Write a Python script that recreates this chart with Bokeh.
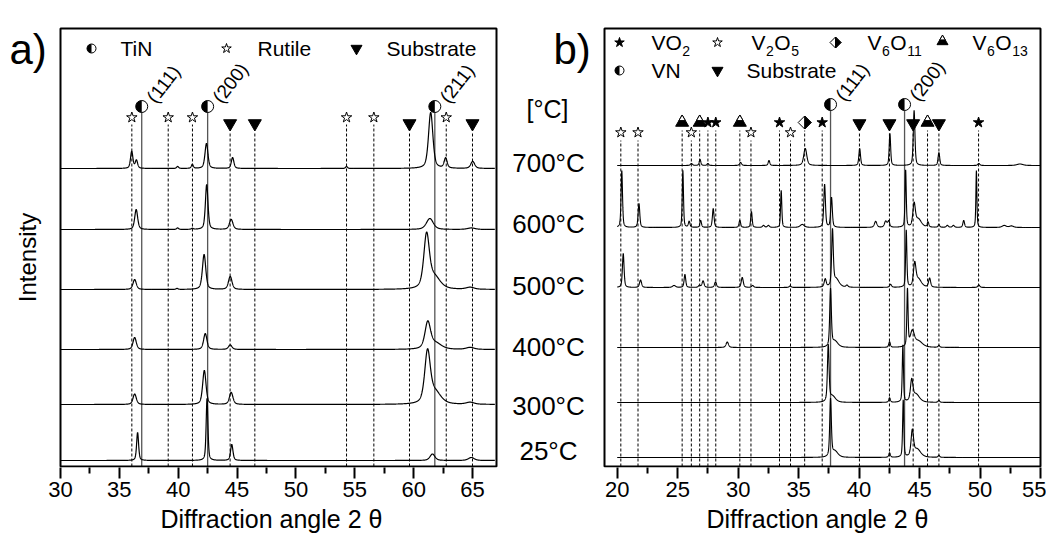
import numpy as np
from bokeh.plotting import figure
from bokeh.layouts import row
from bokeh.models import Label, FixedTicker, Range1d, Title
from bokeh.embed import file_html
from bokeh.resources import INLINE

FONT = "Liberation Sans"

# ---------------- data: panel a (TiN coating) ----------------
temps = ["700°C", "600°C", "500°C", "400°C", "300°C", "25°C"]
a_offsets = [298, 237, 177, 117, 62, 6]
# peaks: (2theta, height, half width)
a_700 = [(36.05, 17, 0.12), (36.45, 8, 0.12), (39.95, 2, 0.1), (41.2, 4, 0.1), (42.4, 25, 0.15),
         (44.62, 11, 0.13), (54.3, 2, 0.1), (61.45, 56, 0.22), (62.72, 10, 0.15), (65.02, 7, 0.2)]
a_600 = [(36.43, 20, 0.15), (39.95, 1.5, 0.1), (41.2, 1, 0.1), (42.42, 45, 0.13), (44.5, 10, 0.18),
         (61.38, 11, 0.35), (64.9, 1.5, 0.4)]
a_500 = [(36.3, 10, 0.17), (39.9, 1, 0.1), (42.2, 35, 0.17), (44.42, 13, 0.18), (61.1, 52, 0.28),
         (61.75, 12, 0.6), (64.8, 2, 0.4)]
a_400 = [(36.3, 12, 0.17), (42.3, 16, 0.17), (44.42, 4.5, 0.18), (61.2, 26, 0.28), (61.85, 6, 0.6),
         (64.8, 2, 0.4)]
a_300 = [(36.3, 10.5, 0.17), (42.22, 34, 0.17), (44.5, 12, 0.18), (61.18, 50, 0.28), (61.8, 12, 0.6),
         (64.8, 2, 0.4)]
a_25 = [(36.55, 28, 0.1), (42.45, 62, 0.09), (44.55, 16, 0.12), (61.6, 6.5, 0.25), (64.9, 3, 0.3)]
a_peaks = [a_700, a_600, a_500, a_400, a_300, a_25]

a_tin_pos = [36.9, 42.5, 61.8]
a_tin_hkl = ["(111)", "(200)", "(211)"]
a_rutile_pos = [36.06, 39.15, 41.21, 54.3, 56.62, 62.77]
a_sub_pos = [44.41, 46.51, 59.65, 65.0]
a_ticks = [30, 35, 40, 45, 50, 55, 60, 65]
a_minor_ticks = [32.5, 37.5, 42.5, 47.5, 52.5, 57.5, 62.5]

# ---------------- data: panel b (VN coating) ----------------
b_offsets = [301, 239, 179, 119, 64, 9]
b_700 = [(26.14, 2, 0.1), (26.85, 6, 0.08), (27.5, 2, 0.08), (30.2, 3, 0.1), (32.55, 5, 0.08),
         (35.55, 17, 0.15), (40.05, 17, 0.08), (42.55, 32, 0.07), (44.55, 55, 0.08), (46.6, 13, 0.08),
         (49.9, 2, 0.1), (53.3, 1.5, 0.3)]
b_600 = [(20.38, 57, 0.07), (21.8, 24, 0.08), (25.43, 57, 0.06), (25.95, 6, 0.08), (26.9, 7, 0.08),
         (27.94, 19, 0.08), (30.14, 7, 0.08), (31.1, 16, 0.07), (32.1, 2, 0.1), (32.5, 2, 0.1),
         (33.56, 37, 0.06), (35.3, 3, 0.2), (37.15, 43, 0.08), (37.72, 30, 0.08), (41.37, 6, 0.12),
         (42.2, 6, 0.12), (42.45, 6, 0.1), (43.85, 57, 0.06), (44.55, 22, 0.12), (44.9, 8, 0.3),
         (45.7, 5, 0.08), (46.6, 3, 0.08), (47.3, 2, 0.1), (47.8, 2, 0.1), (48.65, 7, 0.08),
         (49.7, 57, 0.05), (52.0, 2, 0.2), (52.6, 1.5, 0.2)]
b_500 = [(20.5, 34, 0.08), (21.93, 7.5, 0.1), (24.7, 2, 0.15), (25.6, 13, 0.08), (26.8, 2, 0.1),
         (27.1, 6.5, 0.1), (28.13, 5.5, 0.1), (30.34, 10, 0.1), (31.2, 2, 0.1), (34.3, 1.5, 0.1),
         (37.2, 8, 0.1), (37.8, 55, 0.08), (38.1, 8, 0.3), (39.0, 2, 0.1), (42.6, 3, 0.1),
         (43.9, 57, 0.06), (44.6, 22, 0.12), (44.9, 8, 0.3), (45.83, 9, 0.1), (49.9, 2.5, 0.1)]
b_400 = [(29.1, 5.5, 0.12), (37.64, 57, 0.08), (38.0, 6, 0.3), (42.52, 5.5, 0.08), (44.0, 57, 0.06),
         (44.4, 15, 0.2), (44.9, 6, 0.4), (46.6, 2, 0.08)]
b_300 = [(37.45, 56, 0.08), (37.8, 6, 0.3), (42.52, 4.5, 0.08), (43.62, 57, 0.06), (44.35, 20, 0.12),
         (44.7, 8, 0.35), (46.6, 2, 0.08)]
b_25 = [(37.64, 57, 0.08), (38.0, 6, 0.3), (42.52, 4.5, 0.08), (43.65, 57, 0.06), (44.4, 25, 0.12),
        (44.8, 8, 0.35), (46.6, 2, 0.08)]
b_peaks = [b_700, b_600, b_500, b_400, b_300, b_25]

b_vn_pos = [37.64, 43.76]
b_vn_hkl = ["(111)", "(200)"]
b_vo2_pos = [27.5, 28.15, 33.42, 36.95, 49.88]
b_v2o5_pos = [20.3, 21.72, 26.13, 31.06, 34.33]
b_v6o11_pos = [35.5]
b_v6o13_pos = [25.37, 26.82, 30.14, 45.66]
b_sub_pos = [40.03, 42.51, 44.47, 46.6]
b_ticks = [20, 25, 30, 35, 40, 45, 50, 55]
b_minor_ticks = [22.5, 27.5, 32.5, 37.5, 42.5, 47.5, 52.5]

# ---------------- layout constants (page pixels) ----------------
PA_L, PA_R = 60, 496          # panel a box
PB_L, PB_R = 604, 1040        # panel b box
BOX_TOP, BOX_BOT = 28, 466
A_X0, A_X1 = 30.0, 67.04
B_X0, B_X1 = 18.95, 55.0
SXA = (PA_R - PA_L) / (A_X1 - A_X0)
SXB = (PB_R - PB_L) / (B_X1 - B_X0)
A_W = 600                     # canvas of figure a: page x 0..600
B_W = 446                     # canvas of figure b: page x 600..1046
ax = lambda px: A_X0 + (px - PA_L) / SXA
bx = lambda px: B_X0 + (px - PB_L) / SXB
yy = lambda py: BOX_BOT - py
TOP = yy(BOX_TOP)


def profile(x, peaks):
    y = np.zeros_like(x)
    for c, h, w in peaks:
        d = (x - c) / w
        y += h * (0.5 / (1 + d * d) + 0.5 * np.exp(-np.log(2) * d * d))
    return y


def make_fig(x0, x1, width, ticks, minor, title_left):
    p = figure(x_range=Range1d(x0, x1), y_range=Range1d(-1, yy(0)),
               frame_width=width, frame_height=BOX_BOT + 1,
               min_border_left=0, min_border_right=0, min_border_top=0, min_border_bottom=0,
               y_axis_location=None, toolbar_location=None, output_backend="svg")
    p.title = None
    p.grid.visible = False
    p.outline_line_color = None
    p.background_fill_color = "white"
    p.border_fill_color = "white"
    xa = p.xaxis[0]
    xa.ticker = FixedTicker(ticks=ticks, minor_ticks=minor)
    xa.axis_line_color = None
    xa.major_tick_line_width = 2
    xa.minor_tick_line_width = 2
    xa.major_tick_in = 0
    xa.major_tick_out = 11
    xa.minor_tick_in = 0
    xa.minor_tick_out = 6
    xa.major_label_text_font = FONT
    xa.major_label_text_font_size = "22px"
    xa.major_label_text_color = "black"
    xa.major_label_standoff = 3
    p.add_layout(Title(text="Diffraction angle 2 θ", align="left", offset=title_left,
                       text_font=FONT, text_font_size="25px", text_font_style="normal",
                       text_color="black", standoff=7), "below")
    return p


def lab(p, x, y, text, size, align="left", baseline="middle", angle=0.0, xo=0, yo=0):
    p.add_layout(Label(x=x, y=y, text=text, text_font=FONT, text_font_size=f"{size}px",
                       text_align=align, text_baseline=baseline, angle=angle, text_color="black",
                       x_offset=xo, y_offset=yo))


CW = {"V": 0.667, "O": 0.778}


def formula(p, x, y, pieces, size=21, sub=14):
    off = 0.0
    for t, s in pieces:
        fs = sub if s else size
        lab(p, x, y, t, fs, xo=off, yo=-8 if s else 0)
        off += sum(CW.get(c, 0.556) for c in t) * fs + 0.5


def half_circle(p, xs, ys, size):
    p.scatter(xs, ys, marker="circle", size=size, fill_color="white", line_color="black", line_width=1)
    p.wedge(xs, ys, radius=size / 2, radius_units="screen", start_angle=np.pi / 2,
            end_angle=3 * np.pi / 2, fill_color="black", line_color=None)


def half_triangle(p, xs, ys, size):
    p.scatter(xs, ys, marker="triangle", size=size, fill_color="black", line_color="black")
    shift = (size / 2) / np.sqrt(3)
    p.scatter(xs, [v + shift for v in ys], marker="triangle", size=size / 2, fill_color="white",
              line_color="black", line_width=1)


def half_diamond(p, xs, ys, r, sx):
    p.patches([[x, x + r / sx, x, x - r / sx] for x in xs], [[y + r, y, y - r, y] for y in ys],
              fill_color="white", line_color="black", line_width=1)
    p.patches([[x, x + r / sx, x] for x in xs], [[y + r, y, y - r] for y in ys],
              fill_color="black", line_color="black", line_width=1)


def star(p, xs, ys, size, fill):
    p.scatter(xs, ys, marker="star", size=size, fill_color=fill, line_color="black", line_width=1)


def vlines(p, pos, top, dashed):
    p.segment(x0=pos, y0=[0] * len(pos), x1=pos, y1=[top] * len(pos),
              line_color="black" if dashed else "#555555", line_width=1 if dashed else 1.3,
              line_dash="3 2" if dashed else "solid")


def box(p, x0, x1):
    p.quad(left=[x0], right=[x1], bottom=[0], top=[TOP], fill_color=None, line_color="black",
           line_width=2)


# ================= panel a =================
pa = make_fig(ax(0), ax(A_W), A_W, a_ticks, a_minor_ticks, 160)
xa_grid = np.arange(A_X0, 66.9, 0.01)
vlines(pa, a_rutile_pos, 342, True)
vlines(pa, a_sub_pos, 334, True)
vlines(pa, a_tin_pos, 360, False)
for pk, off in zip(a_peaks, a_offsets):
    pa.line(xa_grid, profile(xa_grid, pk) + off, line_color="black", line_width=1.2)
box(pa, A_X0, A_X1)
star(pa, a_rutile_pos, [349] * len(a_rutile_pos), 11, "white")
pa.scatter(a_sub_pos, [343] * len(a_sub_pos), marker="inverted_triangle", size=13,
           fill_color="black", line_color="black")
half_circle(pa, a_tin_pos, [360] * len(a_tin_pos), 12)
for x, t in zip(a_tin_pos, a_tin_hkl):
    lab(pa, x, 360, t, 19, angle=np.radians(52), xo=9, yo=6)

# legend a
half_circle(pa, [ax(91)], [yy(48)], 9)
lab(pa, ax(120), yy(48), "TiN", 21)
star(pa, [ax(226)], [yy(48)], 10, "white")
lab(pa, ax(257), yy(48), "Rutile", 21)
pa.scatter([ax(356)], [yy(48)], marker="inverted_triangle", size=11, fill_color="black",
           line_color="black")
lab(pa, ax(386), yy(48), "Substrate", 21)

# texts around the panels
lab(pa, ax(9), yy(49), "a)", 42, baseline="alphabetic")
lab(pa, ax(553), yy(49), "b)", 42, baseline="alphabetic")
lab(pa, ax(27), yy(257), "Intensity", 24, align="center", angle=np.pi / 2)
lab(pa, ax(547), yy(108), "[°C]", 25, align="center")
temp_py = [162, 223, 285, 346, 405, 450]
for t, py in zip(temps, temp_py):
    lab(pa, ax(548), yy(py), t, 26, align="center")

# ================= panel b =================
pb = make_fig(bx(A_W), bx(A_W + B_W), B_W, b_ticks, b_minor_ticks, 822 - 116 - A_W)
xb_grid = np.arange(20.0, B_X1, 0.01)
vlines(pb, b_v2o5_pos, 326, True)
vlines(pb, b_vo2_pos + b_v6o11_pos + b_v6o13_pos, 336, True)
vlines(pb, b_sub_pos, 334, True)
vlines(pb, b_vn_pos, 362, False)
for pk, off in zip(b_peaks, b_offsets):
    pb.line(xb_grid, profile(xb_grid, pk) + off, line_color="black", line_width=1.1)
box(pb, B_X0, B_X1)
star(pb, b_v2o5_pos, [334] * len(b_v2o5_pos), 11, "white")
star(pb, b_vo2_pos, [344] * len(b_vo2_pos), 11, "black")
half_diamond(pb, b_v6o11_pos, [344] * len(b_v6o11_pos), 6.5, SXB)
half_triangle(pb, b_v6o13_pos, [344] * len(b_v6o13_pos), 13)
pb.scatter(b_sub_pos, [343] * len(b_sub_pos), marker="inverted_triangle", size=13,
           fill_color="black", line_color="black")
half_circle(pb, b_vn_pos, [362] * len(b_vn_pos), 12)
for x, t in zip(b_vn_pos, b_vn_hkl):
    lab(pb, x, 362, t, 19, angle=np.radians(52), xo=9, yo=6)

# legend b
R1, R2 = yy(42), yy(70)
star(pb, [bx(619)], [R1], 10, "black")
formula(pb, bx(651), R1, [("VO", 0), ("2", 1)])
star(pb, [bx(717)], [R1], 10, "white")
formula(pb, bx(751), R1, [("V", 0), ("2", 1), ("O", 0), ("5", 1)])
half_diamond(pb, [bx(835)], [R1], 5.5, SXB)
formula(pb, bx(867), R1, [("V", 0), ("6", 1), ("O", 0), ("11", 1)])
half_triangle(pb, [bx(942)], [R1 + 1], 11)
formula(pb, bx(972), R1, [("V", 0), ("6", 1), ("O", 0), ("13", 1)])
half_circle(pb, [bx(619)], [R2], 9)
lab(pb, bx(651), R2, "VN", 21)
pb.scatter([bx(717)], [R2], marker="inverted_triangle", size=11, fill_color="black",
           line_color="black")
lab(pb, bx(746), R2, "Substrate", 21)

layout = row(pa, pb)
open("out.html", "w").write(file_html(layout, INLINE))
